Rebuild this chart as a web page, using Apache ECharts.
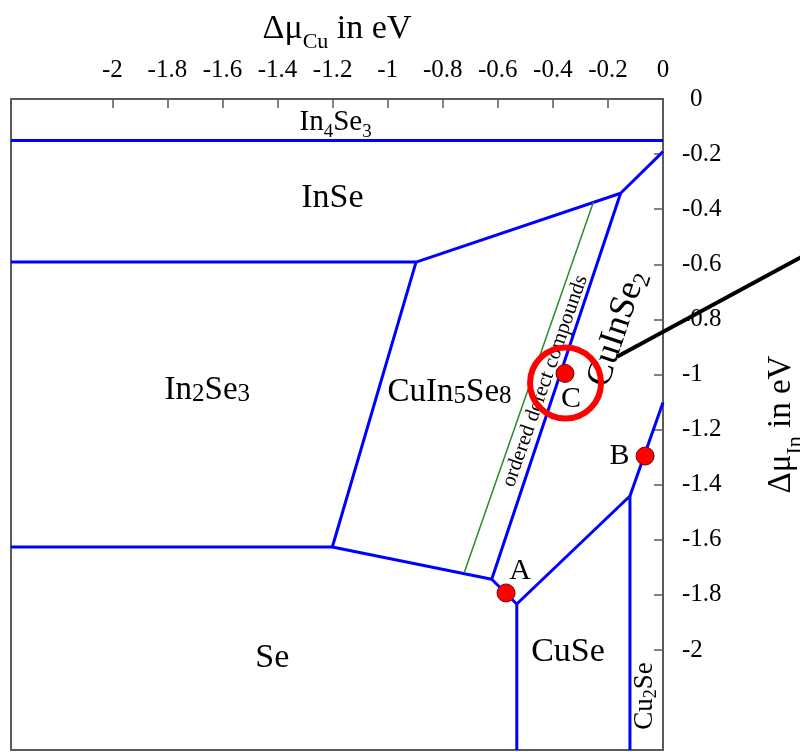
<!DOCTYPE html>
<html>
<head>
<meta charset="utf-8">
<title>Cu–In–Se chemical potential stability diagram</title>
<script src="https://cdn.jsdelivr.net/npm/echarts@6/dist/echarts.min.js"></script>
<style>
  html, body { margin: 0; padding: 0; background: #fff; }
  #chart { width: 800px; height: 752px; }
</style>
</head>
<body>
<div id="chart"></div>
<script>
// Axis extents (eV)
const X_MIN = -2.368;
const Y_MIN = -2.363;

// Tick values on both axes
const cuTicks = [-2, -1.8, -1.6, -1.4, -1.2, -1, -0.8, -0.6, -0.4, -0.2, 0];
const inTicks = [0, -0.2, -0.4, -0.6, -0.8, -1, -1.2, -1.4, -1.6, -1.8, -2];

// Triple points of the phase boundaries [Δμ_Cu, Δμ_In]
const P1 = [-0.897, -0.592];
const P2 = [-0.154, -0.342];
const P3 = [-1.201, -1.626];
const P4 = [-0.622, -1.743];
const P5 = [-0.531, -1.833];
const P6 = [-0.120, -1.441];

// Phase boundaries (polylines)
const boundaries = [
  [[X_MIN, -0.151], [0, -0.151]],
  [[X_MIN, -0.592], P1, P2, [0, -0.191]],
  [P1, P3, P4],
  [[X_MIN, -1.626], P3],
  [P2, P4, P5, [P5[0], Y_MIN]],
  [P5, P6, [P6[0], Y_MIN]],
  [P6, [0, -1.102]]
];

// Ordered defect compounds boundary
const odcLine = [[-0.253, -0.375], [-0.722, -1.72]];

// Marked points
const pointNames = ['A', 'B', 'C'];
const pointValues = [[-0.570, -1.793], [-0.065, -1.296], [-0.356, -0.996]];

// Highlight ring round point C and its pointer line
const ringCenter = [-0.354, -1.031];
const pointerLine = [[-0.167, -0.936], [0.57, -0.537]];

// Phase region names and where they sit
const regionTexts = [
  '{m|In}{s|4}{m|Se}{s|3}',
  '{m|InSe}',
  '{m|In}{d|2}{m|Se}{d|3}',
  '{m|CuIn}{d|5}{m|Se}{d|8}',
  '{m|Se}',
  '{m|CuSe}',
  '{m|Cu}{s|2}{m|Se}',
  '{m|CuInSe}{s|2}',
  '{m|ordered defect compounds}'
];
const regionAnchors = [
  [-1.189, -0.086],
  [-1.201, -0.359],
  [-1.655, -1.058],
  [-0.775, -1.064],
  [-1.419, -2.031],
  [-0.345, -2.009],
  [-0.065, -2.167],
  [-0.166, -0.833],
  [-0.428, -1.024]
];

const SERIF = '"Liberation Serif", "Times New Roman", serif';
const INK = '#000';
const BLUE = '#0000ff';

function richStyle(main, sub, drop) {
  return {
    m: { fontFamily: SERIF, fontSize: main, lineHeight: main, color: INK, verticalAlign: 'top' },
    s: { fontFamily: SERIF, fontSize: sub, lineHeight: sub, color: INK, verticalAlign: 'top', padding: [drop, 0, 0, 0] },
    d: { fontFamily: SERIF, fontSize: sub, lineHeight: sub, color: INK, verticalAlign: 'top', padding: [drop, 0, 0, 0] }
  };
}
// Text size settings per region label: [main size, sub size, drop, rotation]
const regionStyles = [
  [29, 19, 14, 0],
  [34, 22, 14, 0],
  [33, 25, 8, 0],
  [33, 25, 8, 0],
  [34, 22, 14, 0],
  [34, 22, 14, 0],
  [27, 18, 11, 90],
  [36, 24, 15, 71.5],
  [21, 14, 8, 70.7]
];

const series = [];

boundaries.forEach(function (path) {
  series.push({
    type: 'line',
    data: path,
    showSymbol: false,
    lineStyle: { color: BLUE, width: 3 },
    z: 2,
    silent: true
  });
});

series.push({
  type: 'line',
  data: odcLine,
  showSymbol: false,
  lineStyle: { color: '#2a8a2a', width: 1.5 },
  z: 2,
  silent: true
});

series.push({
  type: 'scatter',
  symbolSize: 1,
  itemStyle: { color: 'rgba(0,0,0,0)', opacity: 1 },
  z: 3,
  silent: true,
  label: { show: true, position: 'inside' },
  data: regionTexts.map(function (t, i) {
    const st = regionStyles[i];
    return {
      value: regionAnchors[i],
      label: {
        show: true,
        position: 'inside',
        formatter: t,
        rotate: st[3],
        rich: richStyle(st[0], st[1], st[2])
      }
    };
  })
});

// point label offsets
const pointLabelOffsets = [[14, -21.5], [-25.5, 0], [6, 26]];
series.push({
  type: 'scatter',
  symbol: 'circle',
  symbolSize: 18,
  itemStyle: { color: '#ff0000', borderColor: '#7a0000', borderWidth: 1, opacity: 1 },
  z: 5,
  silent: true,
  data: pointValues.map(function (v, i) {
    return {
      value: v,
      name: pointNames[i],
      label: {
        show: true,
        position: 'inside',
        offset: pointLabelOffsets[i],
        formatter: '{b}',
        fontFamily: SERIF,
        fontSize: 30,
        color: INK
      }
    };
  })
});

series.push({
  type: 'scatter',
  symbol: 'circle',
  symbolSize: 71,
  itemStyle: { color: 'rgba(0,0,0,0)', borderColor: '#ff0000', borderWidth: 6, opacity: 1 },
  z: 6,
  silent: true,
  data: [ringCenter]
});

function tickText(v) {
  return String(v);
}

const option = {
  animation: false,
  backgroundColor: '#fff',
  grid: {
    left: 11, right: 137, top: 99, bottom: 2,
    outerBoundsMode: 'none',
    containLabel: false,
    show: true, borderColor: '#5a5a5a', borderWidth: 2, backgroundColor: 'transparent'
  },
  xAxis: {
    type: 'value',
    position: 'top',
    min: X_MIN,
    max: 0,
    name: '{m|Δμ}{s|Cu}{m| in eV}',
    nameLocation: 'middle',
    nameGap: 51,
    nameTextStyle: { rich: richStyle(34, 22, 19) },
    axisLine: { show: true, onZero: false, lineStyle: { color: '#5a5a5a', width: 2 } },
    axisTick: { show: true, inside: true, length: 9, customValues: cuTicks, lineStyle: { color: '#5a5a5a', width: 1.5 } },
    axisLabel: {
      customValues: cuTicks,
      margin: 16,
      fontFamily: SERIF,
      fontSize: 25,
      color: INK,
      formatter: tickText
    },
    splitLine: { show: false }
  },
  yAxis: {
    type: 'value',
    position: 'right',
    min: Y_MIN,
    max: 0,
    name: '{m|Δμ}{s|In}{m| in eV}',
    nameLocation: 'middle',
    nameGap: 102,
    nameTextStyle: { rich: richStyle(33, 22, 19) },
    axisLine: { show: true, onZero: false, lineStyle: { color: '#5a5a5a', width: 2 } },
    axisTick: { show: true, inside: true, length: 9, customValues: inTicks, lineStyle: { color: '#5a5a5a', width: 1.5 } },
    axisLabel: {
      customValues: inTicks,
      margin: 19,
      fontFamily: SERIF,
      fontSize: 25,
      color: INK,
      formatter: function (v) { return v === 0 ? '{z|0}' : String(v); },
      rich: { z: { fontFamily: SERIF, fontSize: 25, color: INK, padding: [0, 0, 0, 8] } }
    },
    splitLine: { show: false }
  },
  series: series
};

const chart = echarts.init(document.getElementById('chart'), null, { renderer: 'canvas' });
chart.setOption(option);

// Pointer line from the ring towards the right margin, placed through the grid's own scales
const p0 = chart.convertToPixel({ gridIndex: 0 }, pointerLine[0]);
const p1 = chart.convertToPixel({ gridIndex: 0 }, pointerLine[1]);
chart.setOption({
  graphic: [{
    type: 'line',
    shape: { x1: p0[0], y1: p0[1], x2: p1[0], y2: p1[1] },
    style: { stroke: '#000', lineWidth: 4 },
    z: 100,
    silent: true
  }]
});
</script>
</body>
</html>
